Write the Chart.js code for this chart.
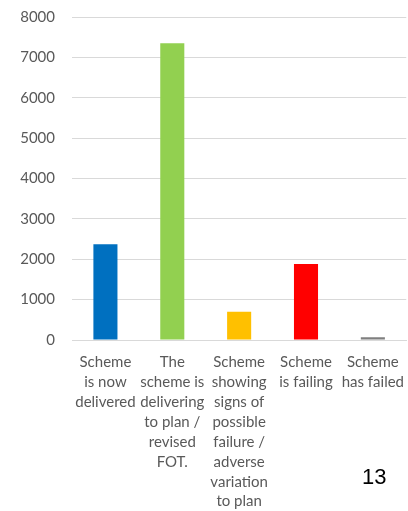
<!DOCTYPE html>
<html>
<head>
<meta charset="utf-8">
<script src="https://cdn.jsdelivr.net/npm/chart.js@4.4.1/dist/chart.umd.min.js"></script>
<style>
  html, body { margin: 0; padding: 0; background: #fff; }
  #wrap { width: 408px; height: 511px; position: relative; }
</style>
</head>
<body>
<div id="wrap"><canvas id="chart"></canvas></div>
<script>
// Scheme status counts
const categories = [
  ["Scheme", "is now", "delivered"],
  ["The", "scheme is", "delivering", "to plan /", "revised", "FOT."],
  ["Scheme", "showing", "signs of", "possible", "failure /", "adverse", "variation", "to plan"],
  ["Scheme", "is failing"],
  ["Scheme", "has failed"]
];
const schemeCounts = [2370, 7350, 700, 1880, 70];
const barColors = ["#0070C0", "#92D050", "#FFC000", "#FF0000", "#7F7F7F"];
const yTicks = [0, 1000, 2000, 3000, 4000, 5000, 6000, 7000, 8000];
const pageNumber = "13";

// page number in the bottom corner
const pageNumberPlugin = {
  id: "pageNumber",
  afterDraw(chart) {
    const c = chart.ctx;
    c.save();
    c.font = "22px 'Liberation Sans', Arial, sans-serif";
    c.fillStyle = "#000";
    c.textAlign = "left";
    c.textBaseline = "alphabetic";
    c.fillText(pageNumber, 362, 484);
    c.restore();
  }
};

const ctx = document.getElementById("chart").getContext("2d");
new Chart(ctx, {
  type: "bar",
  data: {
    labels: categories,
    datasets: [{
      data: schemeCounts,
      backgroundColor: barColors,
      borderWidth: 0,
      barPercentage: 0.36,
      categoryPercentage: 1
    }]
  },
  options: {
    responsive: true,
    maintainAspectRatio: false,
    animation: false,
    layout: { padding: { top: 17, right: 0, left: 0, bottom: 0 } },
    plugins: {
      legend: { display: false },
      tooltip: { enabled: false }
    },
    scales: {
      x: {
        grid: { display: false },
        border: { color: "#d9d9d9", width: 1 },
        ticks: {
          color: "#595959",
          font: { family: "Lato", size: 15, lineHeight: 1.33 },
          autoSkip: false,
          maxRotation: 0,
          minRotation: 0,
          padding: 4
        },
        afterFit(scale) { scale.height = 171; }
      },
      y: {
        min: 0,
        max: 8000,
        afterBuildTicks(scale) { scale.ticks = yTicks.map(v => ({ value: v })); },
        // ticks are invisible, they only push the labels away from the plot
        grid: { color: "#d9d9d9", drawTicks: true, tickLength: 14, tickColor: "rgba(0,0,0,0)" },
        border: { display: false },
        ticks: {
          color: "#595959",
          font: { family: "Lato", size: 15 },
          padding: 3,
          callback: v => String(v)
        },
        afterFit(scale) { scale.width = 72; }
      }
    }
  },
  plugins: [pageNumberPlugin]
});
</script>
</body>
</html>
